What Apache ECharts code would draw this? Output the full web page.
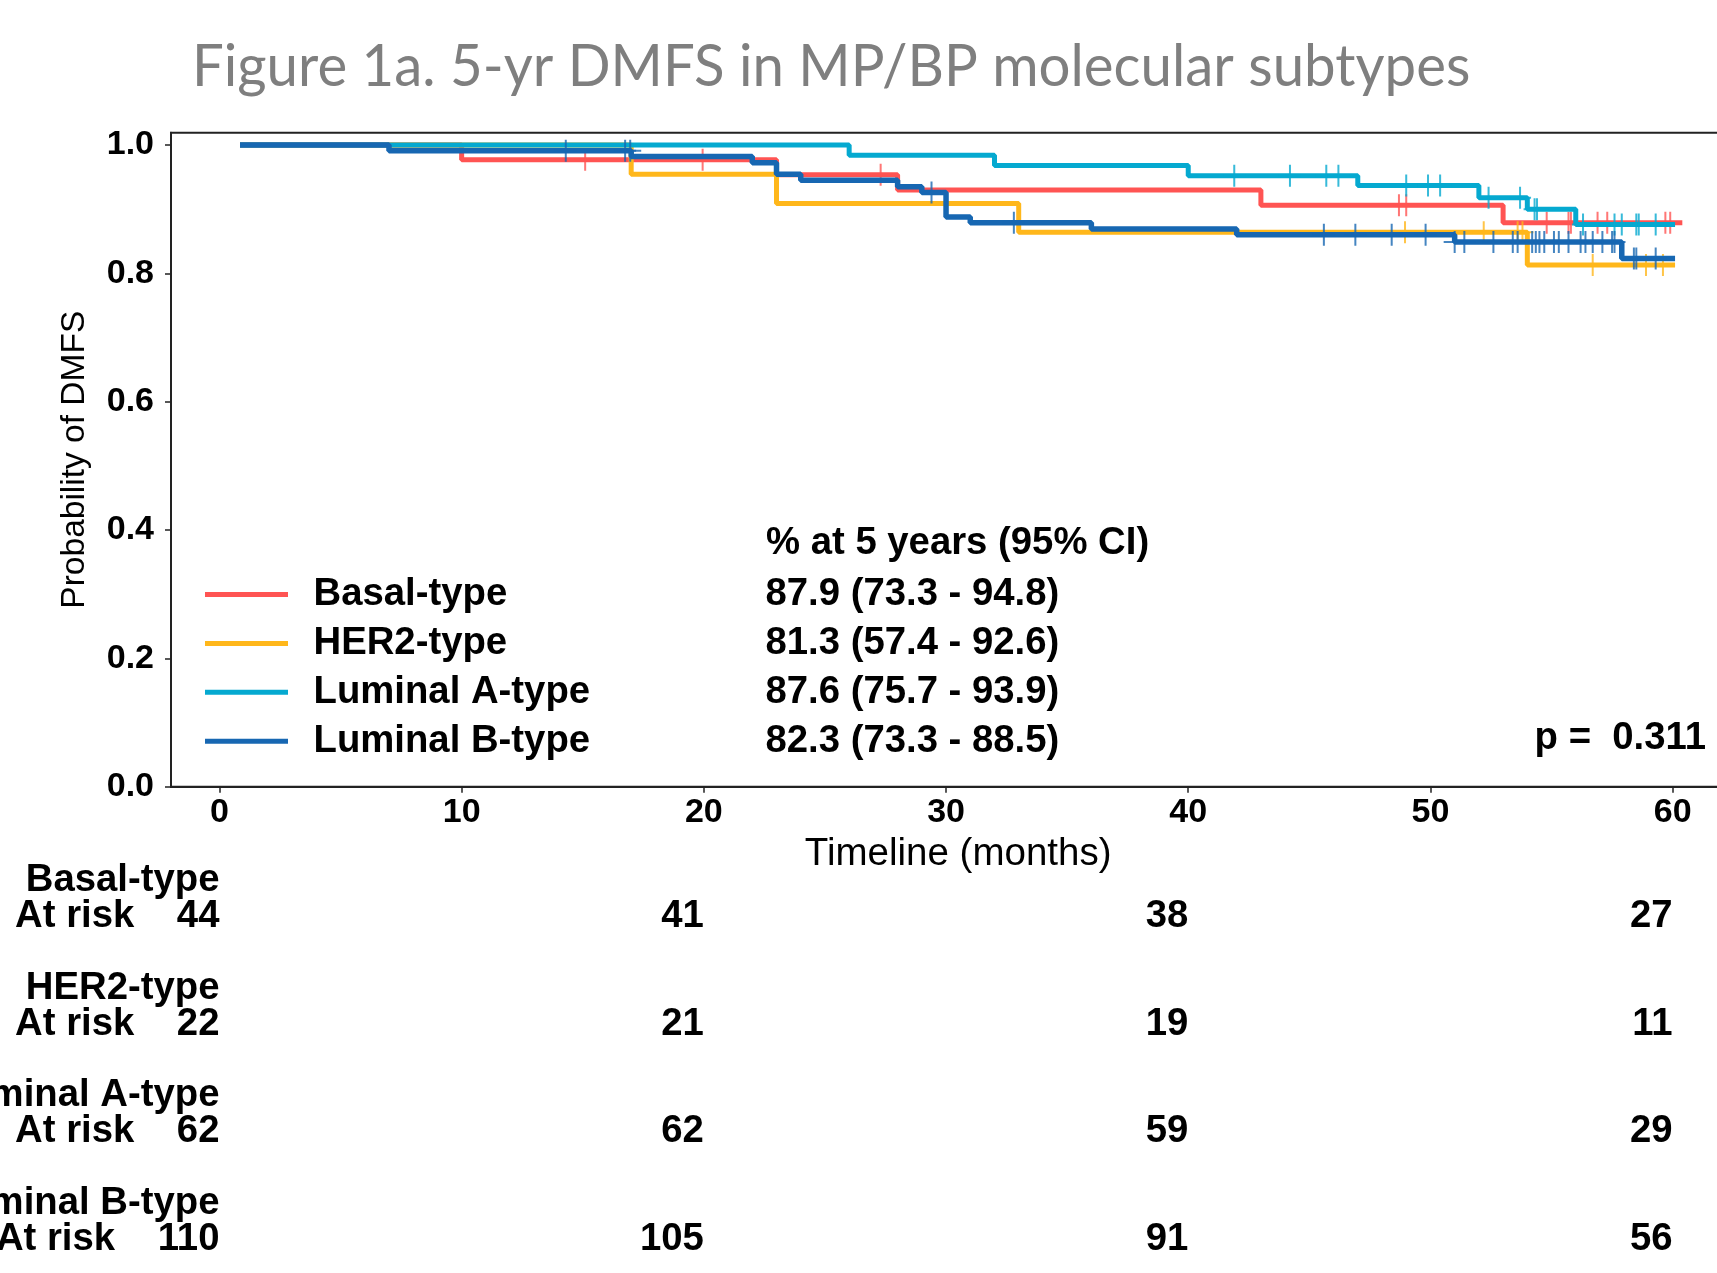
<!DOCTYPE html>
<html>
<head>
<meta charset="utf-8">
<script src="https://cdn.jsdelivr.net/npm/echarts@6/dist/echarts.min.js"></script>
<style>
  html, body { margin: 0; padding: 0; background: #fff; }
  #chart { width: 1717px; height: 1273px; }
</style>
</head>
<body>
<div id="chart"></div>
<script>
// ---------------- DATA ----------------
const titleText = 'Figure 1a. 5-yr DMFS in MP/BP molecular subtypes';
const seriesNames = ['Basal-type', 'HER2-type', 'Luminal A-type', 'Luminal B-type'];

// Kaplan-Meier step points (time in months, survival probability after the step)
const basalTimes = [0.85, 10, 23, 28, 43, 53, 60.4];
const basalSurv  = [1.0, 0.977, 0.9535, 0.930, 0.906, 0.879, 0.879];
const basalCensor = [15.1, 19.95, 27.3, 48.7, 49.0, 54.8, 55.7, 55.8, 56.9, 57.3, 59.7, 59.9];

const her2Times = [0.85, 17, 23, 33, 54, 60.1];
const her2Surv  = [1.0, 0.9545, 0.909, 0.864, 0.813, 0.813];
const her2Censor = [48.95, 52.2, 53.6, 53.8, 56.7, 58.9, 59.6];

const lumATimes = [0.85, 26, 32, 40, 47, 52, 54, 56, 60.1];
const lumASurv  = [1.0, 0.984, 0.968, 0.952, 0.937, 0.918, 0.9, 0.876, 0.876];
const lumACensor = [41.9, 44.2, 45.7, 46.2, 49.0, 49.9, 50.4, 52.4, 53.7, 54.3, 54.4, 56.3, 57.6, 57.9, 58.5, 58.6, 59.3];

const lumBTimes = [0.85, 7, 17, 22, 23, 24, 28, 29, 30, 31, 36, 42, 51, 57.9, 60.1];
const lumBSurv  = [1.0, 0.991, 0.982, 0.9725, 0.9545, 0.945, 0.935, 0.926, 0.888, 0.879, 0.869, 0.86, 0.849, 0.823, 0.823];
const lumBCensor = [14.3, 16.75, 16.96, 29.4, 32.8, 45.6, 46.9, 48.4, 49.8, 51.0, 51.4, 52.6, 53.4, 53.6, 54.2, 54.35, 54.5, 54.7, 55.1, 55.3, 55.7, 56.2, 56.4, 56.7, 57.1, 57.5, 57.6, 58.4, 58.5, 59.3];

const ciHeader = '% at 5 years (95% CI)';
const ciTexts = ['87.9 (73.3 - 94.8)', '81.3 (57.4 - 92.6)', '87.6 (75.7 - 93.9)', '82.3 (73.3 - 88.5)'];
const pValueText = 'p =  0.311';

const xTickValues = [0, 10, 20, 30, 40, 50, 60];
const yTickValues = [0, 0.2, 0.4, 0.6, 0.8, 1.0];
const xAxisName = 'Timeline (months)';
const yAxisName = 'Probability of DMFS';

const atRiskTimes = [0, 20, 40, 60];
const basalRisk = [44, 41, 38, 27];
const her2Risk  = [22, 21, 19, 11];
const lumARisk  = [62, 62, 59, 29];
const lumBRisk  = [110, 105, 91, 56];
const atRiskLabel = 'At risk';

// ---------------- STYLE ----------------
const colors = ['#FF5453', '#FFB71B', '#05A9D0', '#1767B2'];
const lineWidths = [5, 5, 5, 5.5];
const FONT = '"Liberation Sans", Arial, Helvetica, sans-serif';
const BOLD_SIZE = 38.3;

const groups = [
  { times: basalTimes, surv: basalSurv, censor: basalCensor, risk: basalRisk },
  { times: her2Times, surv: her2Surv, censor: her2Censor, risk: her2Risk },
  { times: lumATimes, surv: lumASurv, censor: lumACensor, risk: lumARisk },
  { times: lumBTimes, surv: lumBSurv, censor: lumBCensor, risk: lumBRisk }
];

function survAt(g, t) {
  let s = g.surv[0];
  for (let i = 0; i < g.times.length; i++) {
    if (g.times[i] <= t) s = g.surv[i];
  }
  return s;
}

const plusSymbol = 'path://M10,0H12V10H22V12H12V22H10V12H0V10H10Z';

const series = [];
groups.forEach((g, i) => {
  series.push({
    name: seriesNames[i],
    type: 'line',
    step: 'end',
    xAxisIndex: 0, yAxisIndex: 0,
    data: g.times.map((t, j) => [t, g.surv[j]]),
    showSymbol: false,
    symbol: 'none',
    lineStyle: { width: lineWidths[i], color: colors[i] },
    itemStyle: { color: colors[i] },
    z: 2 + i,
    silent: true
  });
  series.push({
    name: seriesNames[i] + ' censored',
    type: 'scatter',
    xAxisIndex: 0, yAxisIndex: 0,
    data: g.censor.map(t => [t, survAt(g, t)]),
    symbol: plusSymbol,
    symbolSize: [22, 22],
    itemStyle: { color: colors[i] },
    z: 2 + i,
    silent: true
  });
});

// At-risk table: slots (name row, at-risk row, blank) per group
const slotNames = [];
groups.forEach((g, i) => { slotNames.push('n' + i, 'r' + i); if (i < groups.length - 1) slotNames.push('b' + i); });
const tableData = [];
groups.forEach((g, i) => {
  tableData.push({ name: seriesNames[i], value: [atRiskTimes[0], 'n' + i] });
  g.risk.forEach((n, k) => {
    const txt = k === 0 ? (atRiskLabel + '    ' + n) : String(n);
    tableData.push({ name: txt, value: [atRiskTimes[k], 'r' + i] });
  });
});
series.push({
  name: 'atrisk',
  type: 'scatter',
  xAxisIndex: 1, yAxisIndex: 1,
  data: tableData,
  symbol: 'circle',
  symbolSize: 0,
  itemStyle: { color: '#000', opacity: 1 },
  clip: false,
  silent: true,
  z: 10,
  label: {
    show: true, position: 'left', distance: 0, formatter: '{b}',
    align: 'right', verticalAlign: 'middle', opacity: 1,
    fontSize: BOLD_SIZE, fontWeight: 'bold', fontFamily: FONT, color: '#000',
    textBorderWidth: 0
  },
  emphasis: { disabled: true }
});

const chart = echarts.init(document.getElementById('chart'), null, { renderer: 'canvas' });
chart.setOption({
  animation: false,
  backgroundColor: '#fff',
  grid: [
    { left: 171, top: 132.7, width: 1574.3, height: 654, show: true, borderColor: '#222', borderWidth: 2, backgroundColor: 'transparent', outerBoundsMode: 'none', containLabel: false },
    { left: 171, top: 863, width: 1574.3, height: 394.1, outerBoundsMode: 'none', containLabel: false }
  ],
  xAxis: [
    {
      gridIndex: 0, type: 'value', min: -2, max: 63,
      axisLine: { show: true, onZero: false, lineStyle: { color: '#222', width: 2 } },
      axisTick: { show: true, customValues: xTickValues, length: 6, lineStyle: { color: '#222', width: 1.5 } },
      axisLabel: { customValues: xTickValues, fontSize: 34, fontWeight: 'bold', fontFamily: FONT, color: '#000', margin: 9 },
      splitLine: { show: false },
      name: xAxisName, nameLocation: 'middle', nameGap: 47,
      nameTextStyle: { fontSize: 38.5, fontFamily: FONT, color: '#000' }
    },
    { gridIndex: 1, type: 'value', min: -2, max: 63, show: false }
  ],
  yAxis: [
    {
      gridIndex: 0, type: 'value', min: 0, max: 1.0192, interval: 0.2,
      axisLine: { show: true, onZero: false, lineStyle: { color: '#222', width: 2 } },
      axisTick: { show: true, customValues: yTickValues, length: 6, lineStyle: { color: '#222', width: 1.5 } },
      axisLabel: { customValues: yTickValues, formatter: v => v.toFixed(1), fontSize: 34, fontWeight: 'bold', fontFamily: FONT, color: '#000', margin: 17 },
      splitLine: { show: false },
      name: yAxisName, nameLocation: 'middle', nameGap: 79,
      nameTextStyle: { fontSize: 33.5, fontFamily: FONT, color: '#000' }
    },
    { gridIndex: 1, type: 'category', data: slotNames, inverse: true, show: false }
  ],
  legend: {
    data: seriesNames,
    orient: 'vertical',
    left: 200, top: 569.5,
    itemWidth: 83, itemHeight: 5, itemGap: 8.9,
    icon: 'rect',
    selectedMode: false,
    formatter: name => '{n|' + name + '}{c|' + ciTexts[seriesNames.indexOf(name)] + '}',
    textStyle: {
      fontSize: BOLD_SIZE, fontWeight: 'bold', fontFamily: FONT, color: '#000', lineHeight: 40,
      rich: {
        n: { width: 452, padding: [0, 0, 0, 20.5], fontSize: BOLD_SIZE, fontWeight: 'bold', fontFamily: FONT, color: '#000', lineHeight: 40 },
        c: { fontSize: BOLD_SIZE, fontWeight: 'bold', fontFamily: FONT, color: '#000', lineHeight: 40 }
      }
    }
  },
  graphic: [
    { type: 'text', x: 192, y: 67, scaleX: 0.972, style: { text: titleText, font: '58px Lato, "Open Sans", sans-serif', fill: '#7F7F7F', align: 'left', verticalAlign: 'middle' } },
    { type: 'text', x: 766, y: 543, style: { text: ciHeader, font: 'bold ' + BOLD_SIZE + 'px ' + FONT, fill: '#000', align: 'left', verticalAlign: 'middle' } },
    { type: 'text', x: 1706, y: 738, style: { text: pValueText, font: 'bold ' + BOLD_SIZE + 'px ' + FONT, fill: '#000', align: 'right', verticalAlign: 'middle' } }
  ],
  series: series
});
</script>
</body>
</html>
